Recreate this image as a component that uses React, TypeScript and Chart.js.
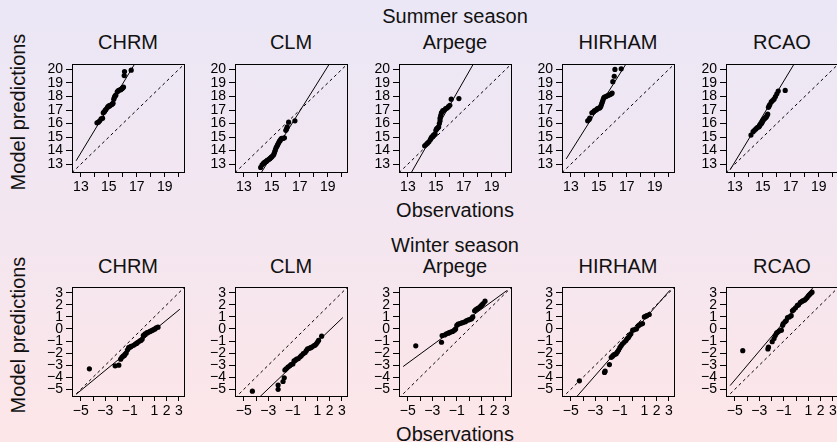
import React, { useEffect, useRef } from "react";
import { Chart, registerables } from "chart.js";

Chart.register(...registerables);

// ---------- data ----------
const models = ["CHRM", "CLM", "Arpege", "HIRHAM", "RCAO"];

const summerTicks = [13, 14, 15, 16, 17, 18, 19, 20];
const summerXLabels = ["13", "", "15", "", "17", "", "19", ""];
const summerYLabels = ["13", "14", "15", "16", "17", "18", "19", "20"];
const winterTicks = [-5, -4, -3, -2, -1, 0, 1, 2, 3];
const winterXLabels = ["\u22125", "", "\u22123", "", "\u22121", "", "1", "2", "3"];
const winterYLabels = ["\u22125", "\u22124", "\u22123", "\u22122", "\u22121", "0", "1", "2", "3"];

// data ranges (axes extend 4% beyond them)
const summerXRange = [12.66, 20.08];
const summerYRange = [12.71, 20.08];
const winterXRange = [-5.38, 3.08];
const winterYRange = [-5.22, 3.11];

// fitted lines (intercept, slope)
const summerIntercepts = [-8.4, -11.13, -11.6, -7.38, -9.07];
const summerSlopes = [1.71, 1.65, 1.81, 1.64, 1.71];
const winterIntercepts = [-0.93, -2.04, 0.89, -0.37, 1.77];
const winterSlopes = [0.833, 0.97, 0.744, 1.16, 1.2];

// Summer season quantiles
const summerCHRMObs = [14.15, 14.25, 14.35, 14.45, 14.55, 14.6, 14.65, 14.7, 14.75, 14.8, 14.9, 14.95, 15.0, 15.05, 15.1, 15.2, 15.25, 15.3, 15.35, 15.4, 15.45, 15.5, 15.6, 15.65, 15.7, 15.8, 15.85, 15.9, 15.95, 16.0, 16.05, 16.1, 16.12, 16.6];
const summerCHRMMod = [16.05, 16.1, 16.2, 16.35, 16.4, 16.8, 16.85, 16.9, 17.0, 17.05, 17.2, 17.25, 17.3, 17.3, 17.35, 17.4, 17.45, 17.5, 17.8, 17.95, 18.05, 18.1, 18.35, 18.4, 18.45, 18.5, 18.5, 18.55, 18.6, 18.65, 18.7, 19.55, 19.85, 19.95];
const summerCLMObs = [14.2, 14.3, 14.4, 14.45, 14.5, 14.6, 14.65, 14.7, 14.8, 14.85, 14.9, 14.95, 15.0, 15.1, 15.15, 15.2, 15.25, 15.3, 15.35, 15.4, 15.45, 15.5, 15.55, 15.6, 15.65, 15.7, 15.8, 15.9, 16.0, 16.05, 16.1, 16.2, 16.65];
const summerCLMMod = [12.75, 12.95, 13.05, 13.1, 13.15, 13.2, 13.25, 13.3, 13.35, 13.4, 13.45, 13.5, 13.55, 13.65, 13.75, 13.9, 14.05, 14.2, 14.3, 14.4, 14.5, 14.6, 14.7, 14.75, 14.85, 14.9, 14.9, 14.95, 15.5, 15.6, 15.75, 16.1, 16.2];
const summerArpegeObs = [14.2, 14.3, 14.4, 14.5, 14.6, 14.65, 14.7, 14.8, 14.85, 14.9, 14.95, 15.0, 15.05, 15.1, 15.15, 15.2, 15.25, 15.3, 15.3, 15.35, 15.4, 15.45, 15.5, 15.6, 15.7, 15.8, 15.9, 16.0, 16.1, 16.65];
const summerArpegeMod = [14.35, 14.45, 14.55, 14.65, 14.8, 14.9, 15.0, 15.1, 15.15, 15.2, 15.2, 15.5, 15.6, 15.65, 15.7, 15.75, 16.0, 16.2, 16.4, 16.6, 16.8, 16.85, 16.95, 17.0, 17.1, 17.15, 17.25, 17.35, 17.8, 17.85];
const summerHIRHAMObs = [14.2, 14.3, 14.35, 14.5, 14.6, 14.65, 14.7, 14.8, 14.85, 14.9, 15.0, 15.05, 15.1, 15.15, 15.2, 15.25, 15.3, 15.35, 15.4, 15.5, 15.6, 15.7, 15.8, 15.9, 15.95, 16.0, 16.1, 16.15, 16.6];
const summerHIRHAMMod = [16.2, 16.3, 16.4, 16.8, 16.85, 16.9, 16.95, 17.0, 17.05, 17.1, 17.15, 17.15, 17.2, 17.3, 17.45, 17.6, 17.75, 17.9, 17.95, 18.0, 18.05, 18.1, 18.15, 18.2, 18.25, 19.1, 19.5, 20.0, 20.05];
const summerRCAOObs = [14.15, 14.3, 14.4, 14.5, 14.6, 14.7, 14.75, 14.8, 14.9, 14.95, 15.0, 15.05, 15.1, 15.15, 15.2, 15.25, 15.3, 15.35, 15.4, 15.45, 15.5, 15.6, 15.7, 15.8, 15.9, 16.0, 16.1, 16.6];
const summerRCAOMod = [15.15, 15.4, 15.5, 15.6, 15.7, 15.75, 15.8, 15.9, 16.0, 16.1, 16.2, 16.3, 16.35, 16.4, 16.45, 16.5, 16.6, 16.7, 17.2, 17.3, 17.4, 17.6, 17.7, 17.8, 18.0, 18.2, 18.4, 18.45];

// Winter season quantiles
const winterCHRMObs = [-4.3, -2.2, -1.9, -1.75, -1.65, -1.55, -1.45, -1.4, -1.3, -1.2, -1.1, -1.0, -0.9, -0.7, -0.55, -0.45, -0.35, -0.2, -0.1, 0.0, 0.1, 0.15, 0.25, 0.4, 0.55, 0.65, 0.75, 0.85, 0.95, 1.05, 1.15, 1.3];
const winterCHRMMod = [-3.3, -3.05, -3.0, -2.5, -2.35, -2.25, -2.2, -2.1, -2.0, -1.75, -1.55, -1.5, -1.45, -1.35, -1.25, -1.2, -1.1, -1.0, -0.95, -0.85, -0.55, -0.5, -0.4, -0.3, -0.25, -0.2, -0.15, -0.1, -0.05, 0.0, 0.1, 0.15];
const winterCLMObs = [-4.3, -2.2, -2.2, -1.8, -1.7, -1.65, -1.55, -1.4, -1.25, -1.15, -1.0, -0.9, -0.8, -0.7, -0.55, -0.4, -0.3, -0.15, 0.0, 0.1, 0.2, 0.35, 0.45, 0.55, 0.7, 0.8, 0.9, 1.0, 1.1, 1.35];
const winterCLMMod = [-5.15, -5.0, -4.65, -4.35, -4.05, -3.4, -3.3, -3.15, -3.05, -2.95, -2.9, -2.65, -2.6, -2.5, -2.45, -2.3, -2.2, -2.05, -1.95, -1.8, -1.65, -1.6, -1.55, -1.5, -1.4, -1.35, -1.25, -1.1, -0.95, -0.6];
const winterArpegeObs = [-4.35, -2.25, -2.2, -2.0, -1.85, -1.7, -1.6, -1.5, -1.35, -1.2, -1.1, -1.0, -0.9, -0.75, -0.6, -0.45, -0.3, -0.2, -0.05, 0.1, 0.2, 0.3, 0.45, 0.55, 0.7, 0.85, 0.95, 1.05, 1.15, 1.3];
const winterArpegeMod = [-1.4, -1.1, -0.55, -0.5, -0.4, -0.35, -0.3, -0.25, -0.2, -0.1, 0.0, 0.3, 0.4, 0.45, 0.5, 0.55, 0.6, 0.7, 0.75, 0.8, 0.85, 1.0, 1.5, 1.6, 1.7, 1.8, 1.9, 2.0, 2.1, 2.3];
const winterHIRHAMObs = [-4.3, -2.25, -2.2, -1.85, -1.7, -1.6, -1.5, -1.4, -1.3, -1.2, -1.1, -1.0, -0.9, -0.8, -0.65, -0.5, -0.4, -0.3, -0.2, -0.1, 0.05, 0.2, 0.35, 0.5, 0.6, 0.7, 0.85, 1.0, 1.1, 1.2, 1.4];
const winterHIRHAMMod = [-4.3, -3.6, -3.5, -2.95, -2.35, -2.25, -2.15, -2.1, -2.05, -1.9, -1.75, -1.55, -1.4, -1.25, -1.1, -0.95, -0.8, -0.7, -0.55, -0.4, -0.1, -0.05, 0.0, 0.25, 0.35, 0.4, 0.45, 1.0, 1.05, 1.1, 1.2];
const winterRCAOObs = [-4.35, -2.3, -2.25, -1.95, -1.8, -1.7, -1.6, -1.5, -1.35, -1.2, -1.1, -1.05, -0.9, -0.8, -0.7, -0.55, -0.4, -0.3, -0.2, -0.05, 0.1, 0.2, 0.35, 0.5, 0.6, 0.7, 0.8, 0.9, 1.0, 1.1, 1.2, 1.3];
const winterRCAOMod = [-1.8, -1.65, -1.5, -1.05, -0.8, -0.55, -0.35, -0.25, -0.15, -0.1, 0.3, 0.45, 0.6, 0.7, 0.95, 1.0, 1.1, 1.5, 1.6, 1.75, 1.95, 2.0, 2.2, 2.3, 2.35, 2.4, 2.5, 2.6, 2.75, 2.85, 2.95, 3.05];

const summerObs = [summerCHRMObs, summerCLMObs, summerArpegeObs, summerHIRHAMObs, summerRCAOObs];
const summerMod = [summerCHRMMod, summerCLMMod, summerArpegeMod, summerHIRHAMMod, summerRCAOMod];
const winterObs = [winterCHRMObs, winterCLMObs, winterArpegeObs, winterHIRHAMObs, winterRCAOObs];
const winterMod = [winterCHRMMod, winterCLMMod, winterArpegeMod, winterHIRHAMMod, winterRCAOMod];

// ---------- layout ----------
const BOX_LEFTS = [72, 235, 399, 562, 726];
const BOX_W = 112;
const ROW_TOPS = [58, 281];
const ROW_H = [114, 115];
const PAD_L = 50;
const PAD_T = 5;
const PAD_R = 8;
const PAD_B = 30;
const FONT = "'Liberation Sans', Arial, Helvetica, sans-serif";

const ext = (r: number[]) => {
  const d = (r[1] - r[0]) * 0.04;
  return [r[0] - d, r[1] + d];
};

const boxPlugin = {
  id: "boxFrame",
  afterDatasetsDraw(chart: any) {
    const { ctx, chartArea } = chart;
    ctx.save();
    ctx.strokeStyle = "#000";
    ctx.lineWidth = 1;
    ctx.strokeRect(
      Math.round(chartArea.left) + 0.5,
      Math.round(chartArea.top) + 0.5,
      Math.round(chartArea.width),
      Math.round(chartArea.height)
    );
    ctx.restore();
  },
};

function makeConfig(row: number, i: number) {
  const summer = row === 0;
  const xr = summer ? summerXRange : winterXRange;
  const yr = summer ? summerYRange : winterYRange;
  const [xmin, xmax] = ext(xr);
  const [ymin, ymax] = ext(yr);
  const ticks = summer ? summerTicks : winterTicks;
  const xl = summer ? summerXLabels : winterXLabels;
  const yl = summer ? summerYLabels : winterYLabels;
  const obs = summer ? summerObs[i] : winterObs[i];
  const mod = summer ? summerMod[i] : winterMod[i];
  const a = summer ? summerIntercepts[i] : winterIntercepts[i];
  const b = summer ? summerSlopes[i] : winterSlopes[i];
  const pts = obs.map((x, k) => ({ x, y: mod[k] }));
  const fit = [
    { x: xr[0], y: a + b * xr[0] },
    { x: xr[1], y: a + b * xr[1] },
  ];
  const lo = Math.min(xmin, ymin);
  const hi = Math.max(xmax, ymax);
  const diag = [
    { x: lo, y: lo },
    { x: hi, y: hi },
  ];
  const font = { family: FONT, size: 14 };
  const labelFor = (labels: string[]) => (v: any) => {
    const k = ticks.indexOf(Number(v));
    return k >= 0 ? labels[k] : "";
  };
  return {
    type: "scatter",
    data: {
      datasets: [
        {
          type: "line",
          data: diag,
          borderColor: "#000",
          borderWidth: 1,
          borderDash: [3, 3],
          pointRadius: 0,
          fill: false,
        },
        {
          type: "line",
          data: fit,
          borderColor: "#000",
          borderWidth: 1,
          pointRadius: 0,
          fill: false,
        },
        {
          type: "scatter",
          data: pts,
          pointRadius: 2.6,
          pointBackgroundColor: "#000",
          pointBorderWidth: 0,
          backgroundColor: "#000",
        },
      ],
    },
    options: {
      animation: false,
      responsive: false,
      maintainAspectRatio: false,
      events: [],
      layout: { padding: { top: PAD_T, right: PAD_R, left: 0, bottom: 0 } },
      plugins: { legend: { display: false }, tooltip: { enabled: false }, title: { display: false } },
      scales: {
        x: {
          type: "linear",
          min: xmin,
          max: xmax,
          afterBuildTicks: (s: any) => {
            s.ticks = ticks.map((v) => ({ value: v }));
          },
          afterFit: (s: any) => {
            s.height = PAD_B;
          },
          ticks: {
            callback: labelFor(xl),
            autoSkip: false,
            maxRotation: 0,
            minRotation: 0,
            color: "#000",
            font,
            padding: 2,
          },
          grid: { drawOnChartArea: false, drawTicks: true, tickLength: 5, color: "#000", lineWidth: 1 },
          border: { display: false },
        },
        y: {
          type: "linear",
          min: ymin,
          max: ymax,
          afterBuildTicks: (s: any) => {
            s.ticks = ticks.map((v) => ({ value: v }));
          },
          afterFit: (s: any) => {
            s.width = PAD_L;
          },
          ticks: {
            callback: labelFor(yl),
            autoSkip: false,
            color: "#000",
            font,
            padding: 3,
          },
          grid: { drawOnChartArea: false, drawTicks: true, tickLength: 6, color: "#000", lineWidth: 1 },
          border: { display: false },
        },
      },
    },
    plugins: [boxPlugin],
  } as any;
}

const panels: { row: number; i: number }[] = [];
[0, 1].forEach((row) => models.forEach((_, i) => panels.push({ row, i })));

const textStyle = (x: number, y: number, rotate = false): React.CSSProperties => ({
  position: "absolute",
  left: x,
  top: y,
  transform: `translate(-50%, -50%)${rotate ? " rotate(-90deg)" : ""}`,
  fontFamily: FONT,
  fontSize: 20,
  lineHeight: 1,
  whiteSpace: "nowrap",
  color: "#111",
});

export default function App() {
  const refs = useRef<(HTMLCanvasElement | null)[]>([]);

  useEffect(() => {
    const charts: Chart[] = [];
    panels.forEach((p, k) => {
      const c = refs.current[k];
      if (c) charts.push(new Chart(c, makeConfig(p.row, p.i)));
    });
    return () => charts.forEach((ch) => ch.destroy());
  }, []);

  const center = BOX_LEFTS[2] + BOX_W / 2;

  return (
    <div
      style={{
        position: "fixed",
        left: 0,
        top: 0,
        width: 837,
        height: 442,
        overflow: "hidden",
        background: "linear-gradient(to bottom, #ebe7f6 0%, #f3e6f0 50%, #fde6e8 100%)",
      }}
    >
      <div style={textStyle(center, 15.5)}>Summer season</div>
      <div style={textStyle(center, 209.5)}>Observations</div>
      <div style={textStyle(17.5, 112, true)}>Model predictions</div>
      <div style={textStyle(center, 245)}>Winter season</div>
      <div style={textStyle(center, 433.5)}>Observations</div>
      <div style={textStyle(17.5, 335, true)}>Model predictions</div>
      {panels.map((p, k) => (
        <div key={"t" + k} style={textStyle(BOX_LEFTS[p.i] + BOX_W / 2, p.row === 0 ? 42 : 266)}>
          {models[p.i]}
        </div>
      ))}
      {panels.map((p, k) => {
        const w = PAD_L + BOX_W + PAD_R;
        const h = PAD_T + ROW_H[p.row] + PAD_B;
        return (
          <canvas
            key={"c" + k}
            ref={(el) => {
              refs.current[k] = el;
            }}
            width={w}
            height={h}
            style={{
              position: "absolute",
              left: BOX_LEFTS[p.i] - PAD_L,
              top: ROW_TOPS[p.row] - PAD_T,
              width: w,
              height: h,
            }}
          />
        );
      })}
    </div>
  );
}
